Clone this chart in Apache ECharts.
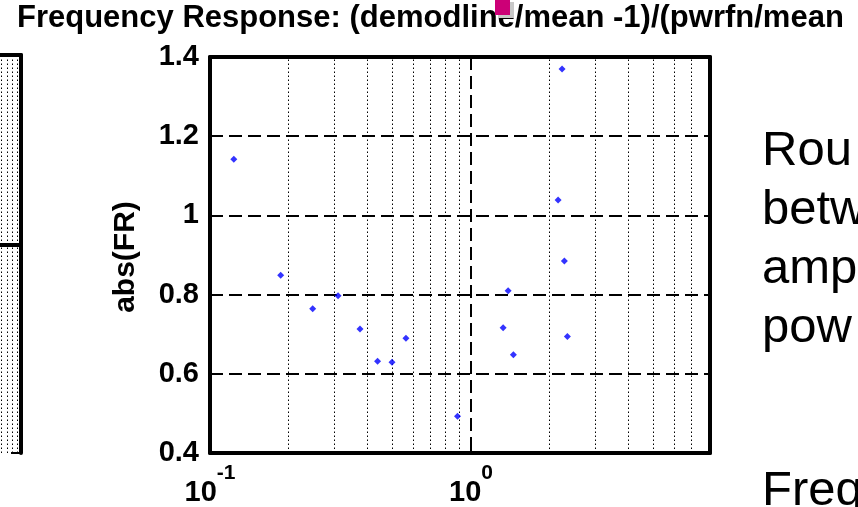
<!DOCTYPE html>
<html>
<head>
<meta charset="utf-8">
<script src="https://cdn.jsdelivr.net/npm/echarts@6/dist/echarts.min.js"></script>
<style>
  html, body { margin: 0; padding: 0; background: #fff; }
  #chart { width: 858px; height: 507px; }
</style>
</head>
<body>
<div id="chart"></div>
<script>
// Measured frequency response: frequency (log scale) vs. |FR|
const freq  = [0.1234, 0.1866, 0.2474, 0.3095, 0.3757, 0.4387, 0.4981, 0.5635,
               0.888, 1.328, 1.388, 1.454, 2.157, 2.234, 2.280, 2.341];
const absFR = [1.142, 0.849, 0.764, 0.797, 0.713, 0.632, 0.629, 0.690,
               0.493, 0.716, 0.810, 0.648, 1.039, 1.370, 0.885, 0.694];

// Axis ranges
const xRange = [0.1, 8.24];
const yRange = [0.4, 1.4];
const yStep = 0.2;

// Minor (dotted) log grid lines within the plotted decades
const minorFreqTicks = [0.2, 0.3, 0.4, 0.5, 0.6, 0.7, 0.8, 0.9, 2, 3, 4, 5, 6, 7];

// Neighbouring panel on the left (only the top end of its last decade is on screen)
const leftPanelXRange = [5.735, 10];
const leftPanelYRange = [-1, 0.91];
const leftPanelMinorTicks = [6, 7, 8, 9];

const titleText = 'Frequency Response: (demodline/mean -1)/(pwrfn/mean';
const yAxisTitle = 'abs(FR)';
const sideLines = ['Rou', 'betw', 'amp', 'pow'];
const sideLast = 'Freq';

const FONT = '"Liberation Sans", Arial, Helvetica, sans-serif';
const BLACK = '#000';

function decadeLabel(v) {
  const e = Math.log10(v);
  const r = Math.round(e);
  if (Math.abs(e - r) > 1e-6) return '';
  return '{b|10}{s|' + r + '}';
}

const chart = echarts.init(document.getElementById('chart'), null, { renderer: 'canvas' });

const frameLine = { show: true, lineStyle: { color: BLACK, width: 4 } };
const dotted = { color: BLACK, width: 1, type: [1.5, 2.5] };

const option = {
  backgroundColor: '#fff',
  animation: false,
  grid: [
    { left: 210, top: 57, width: 500, height: 396, outerBoundsMode: 'none' },
    { left: 0, top: 55, width: 21, height: 398, outerBoundsMode: 'none' }
  ],
  xAxis: [
    {
      type: 'log', logBase: 10, gridIndex: 0, position: 'bottom',
      min: xRange[0], max: xRange[1],
      axisLine: frameLine,
      axisTick: { show: true, inside: true, length: 6, lineStyle: { color: BLACK, width: 2 } },
      axisLabel: {
        show: true, margin: 10, color: BLACK,
        formatter: decadeLabel,
        rich: {
          b: { fontFamily: FONT, fontWeight: 'bold', fontSize: 29, color: BLACK,
               lineHeight: 44, verticalAlign: 'bottom' },
          s: { fontFamily: FONT, fontWeight: 'bold', fontSize: 21, color: BLACK,
               lineHeight: 44, verticalAlign: 'top' }
        }
      },
      splitLine: { show: true, lineStyle: { color: BLACK, width: 2, type: [13, 6] } },
      minorTick: { show: false }
    },
    {
      type: 'log', logBase: 10, gridIndex: 0, position: 'top',
      min: xRange[0], max: xRange[1],
      axisLine: frameLine,
      axisTick: { show: true, inside: true, length: 6, lineStyle: { color: BLACK, width: 2 } },
      axisLabel: { show: false },
      splitLine: { show: false }
    },
    {
      type: 'log', logBase: 10, gridIndex: 1, position: 'bottom',
      min: leftPanelXRange[0], max: leftPanelXRange[1],
      axisLine: frameLine, axisTick: { show: false }, axisLabel: { show: false },
      splitLine: { show: false }
    },
    {
      type: 'log', logBase: 10, gridIndex: 1, position: 'top',
      min: leftPanelXRange[0], max: leftPanelXRange[1],
      axisLine: frameLine, axisTick: { show: false }, axisLabel: { show: false },
      splitLine: { show: false }
    }
  ],
  yAxis: [
    {
      type: 'value', gridIndex: 0, position: 'left',
      min: yRange[0], max: yRange[1], interval: yStep,
      axisLine: frameLine,
      axisTick: { show: true, inside: true, length: 6, lineStyle: { color: BLACK, width: 2 } },
      axisLabel: { show: true, margin: 11, color: BLACK, fontFamily: FONT,
                   fontWeight: 'bold', fontSize: 29 },
      splitLine: { show: true, lineStyle: { color: BLACK, width: 2, type: [13, 6] } }
    },
    {
      type: 'value', gridIndex: 0, position: 'right',
      min: yRange[0], max: yRange[1], interval: yStep,
      axisLine: frameLine,
      axisTick: { show: true, inside: true, length: 6, lineStyle: { color: BLACK, width: 2 } },
      axisLabel: { show: false },
      splitLine: { show: false }
    },
    {
      type: 'value', gridIndex: 1, position: 'right',
      min: leftPanelYRange[0], max: leftPanelYRange[1], interval: 1,
      axisLine: frameLine,
      axisTick: { show: true, inside: true, length: 10, lineStyle: { color: BLACK, width: 2 } },
      axisLabel: { show: false },
      splitLine: { show: false }
    }
  ],
  series: [
    {
      // dotted minor grid of the main panel
      type: 'scatter', xAxisIndex: 0, yAxisIndex: 0, data: [], z: 1,
      markLine: {
        silent: true, symbol: ['none', 'none'], label: { show: false },
        lineStyle: dotted,
        emphasis: { disabled: true },
        data: minorFreqTicks.map(v => ({ xAxis: v }))
      }
    },
    {
      // dotted minor grid of the left panel
      type: 'scatter', xAxisIndex: 2, yAxisIndex: 2, data: [], z: 1,
      markLine: {
        silent: true, symbol: ['none', 'none'], label: { show: false },
        lineStyle: dotted,
        emphasis: { disabled: true },
        data: leftPanelMinorTicks.map(v => ({ xAxis: v }))
      }
    },
    {
      name: 'abs(FR)',
      type: 'scatter', xAxisIndex: 0, yAxisIndex: 0, z: 5,
      symbol: 'diamond', symbolSize: 7,
      itemStyle: { color: '#0000ff' },
      data: freq.map((f, i) => [f, absFR[i]])
    }
  ],
  graphic: [
    {
      type: 'text', left: 17, top: 3, z: 10,
      style: { text: titleText, font: 'bold 31px ' + FONT, fill: BLACK }
    },
    {
      type: 'text', x: 126, y: 257, rotation: Math.PI / 2, z: 10,
      style: { text: yAxisTitle, x: 0, y: 0, align: 'center', verticalAlign: 'middle',
               font: 'bold 30px ' + FONT, fill: BLACK }
    },
    ...sideLines.map((t, i) => ({
      type: 'text', z: 10,
      style: { text: t, x: 762, y: 151 + i * 59, verticalAlign: 'middle',
               font: '49px ' + FONT, fill: BLACK }
    })),
    {
      type: 'text', z: 10,
      style: { text: sideLast, x: 762, y: 491, verticalAlign: 'middle',
               font: '49px ' + FONT, fill: BLACK }
    },
    {
      type: 'rect', z: 11,
      shape: { x: 498, y: 2, width: 16, height: 16 },
      style: { fill: '#c8c8c8' }
    },
    {
      type: 'rect', z: 12,
      shape: { x: 495, y: 0, width: 15, height: 15 },
      style: { fill: '#cc0077' }
    }
  ]
};

chart.setOption(option);
</script>
</body>
</html>
